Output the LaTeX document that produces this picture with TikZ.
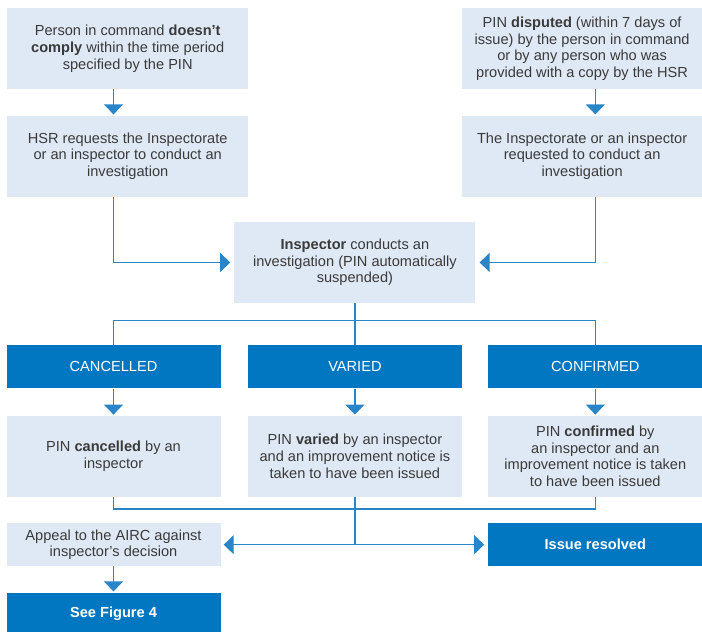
\documentclass[tikz,border=0pt]{standalone}
\usepackage{fontspec}
\setmainfont{Liberation Sans}
\usepackage{xcolor}
\usetikzlibrary{arrows.meta,positioning,calc}
\definecolor{paleblue}{HTML}{DFE9F5}
\definecolor{deepblue}{HTML}{0077C0}
\definecolor{lineblue}{HTML}{2A84C8}
\definecolor{inkgrey}{HTML}{3A3A3A}

\begin{document}
\begin{tikzpicture}[>={Triangle[width=19pt,length=10pt]},shorten >=1pt,node distance=26pt,
    box/.style={rectangle,inner sep=0pt,align=center,font=\fontsize{14.6pt}{16.7pt}\selectfont},
    pale/.style={box,fill=paleblue,text=inkgrey},
    dark/.style={box,fill=deepblue,text=white},
    wide/.style={minimum width=241pt,minimum height=81pt},
    col/.style={minimum width=214pt,minimum height=81pt},
    bar/.style={minimum width=214pt,minimum height=43pt},
    link/.style={draw=lineblue,line width=1.2pt},
    every edge/.style={link}]
    \useasboundingbox (0,0) rectangle (702pt,-632pt);

    \node[pale,wide,anchor=north west] (comply) at (7pt,-8pt)
        {Person in command \textbf{doesn’t}\\ \textbf{comply} within the time period\\ specified by the PIN};
    \node[pale,wide] (hsrreq)   [below=of comply]        {HSR requests the Inspectorate\\ or an inspector to conduct an\\ investigation};
    \node[pale,wide] (disputed) [right=213pt of comply] {PIN \textbf{disputed} (within 7 days of\\ issue) by the person in command\\ or by any person who was\\ provided with a copy by the HSR};
    \node[pale,wide] (inspreq)  [below=of disputed]      {The Inspectorate or an inspector\\ requested to conduct an\\ investigation};
    \coordinate (mid) at ($(hsrreq.south)!.5!(inspreq.south)$);
    \node[pale,wide] (invest)   [below=25pt of mid]      {\textbf{Inspector} conducts an\\ investigation (PIN automatically\\ suspended)};

    \node[dark,bar]  (varied)    [below=42pt of invest]   {VARIED};
    \node[dark,bar]  (cancelled) [left=27pt of varied]    {CANCELLED};
    \node[dark,bar]  (confirmed) [right=26pt of varied]   {CONFIRMED};
    \node[pale,col]  (pincanc)   [below=27pt of cancelled] {PIN \textbf{cancelled} by an\\ inspector};
    \node[pale,col]  (pinvar)    [below=27pt of varied]    {PIN \textbf{varied} by an inspector\\ and an improvement notice is\\ taken to have been issued};
    \node[pale,col]  (pinconf)   [below=27pt of confirmed] {PIN \textbf{confirmed} by\\ an inspector and an\\ improvement notice is taken\\ to have been issued};
    \node[pale,bar]  (appeal)    [below=of pincanc]       {Appeal to the AIRC against\\ inspector’s decision};
    \node[dark,bar]  (resolved)  [below=of pinconf]       {\textbf{Issue resolved}};
    \node[dark,bar,minimum height=42pt] (figfour) [below=of appeal] {\textbf{See Figure 4}};

    \path [->]
    (comply.south -| cancelled) edge (hsrreq.north -| cancelled)
    (disputed.south -| confirmed) edge (inspreq.north -| confirmed)
    (cancelled) edge (pincanc)
    (varied) edge (pinvar)
    (confirmed) edge (pinconf)
    (appeal) edge (figfour);

    \draw[->,link,shorten >=4pt] (hsrreq.south -| cancelled) |- (invest);
    \draw[->,link,shorten >=4pt] (inspreq.south -| confirmed) |- (invest);

    \coordinate (split) at ($(invest.south)+(0,-17.5pt)$);
    \draw[link,shorten >=0pt] (invest) -- (varied);
    \draw[link,shorten >=0pt] (cancelled) |- (split) -| (confirmed);

    \coordinate (merge) at ($(pinvar.south)+(0,-12pt)$);
    \coordinate (fork) at (pinvar |- appeal);
    \draw[link,shorten >=0pt] (pincanc) |- (merge) -| (pinconf);
    \draw[link,shorten >=0pt] (pinvar) -- (fork);
    \draw[->,link,shorten >=3pt] (fork) -- (appeal);
    \draw[->,link,shorten >=4pt] (fork) -- (resolved);
\end{tikzpicture}
\end{document}
